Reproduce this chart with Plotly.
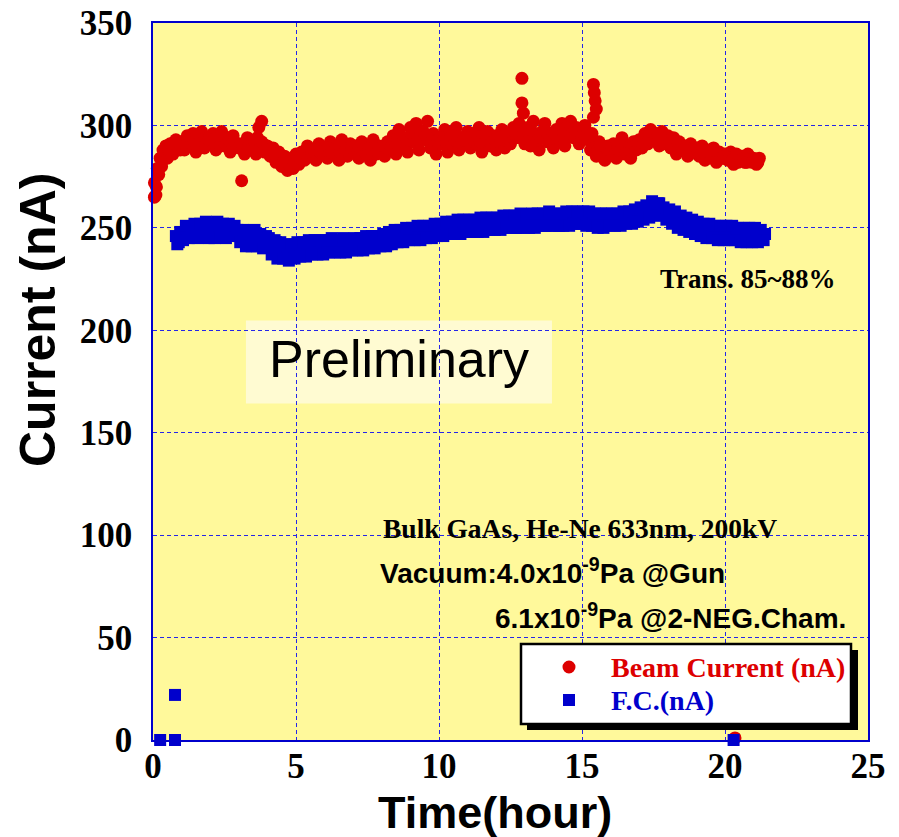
import plotly.graph_objects as go

# ---------------- data ----------------
# Beam current: main readings, an in-between pass, and isolated points
beam_t = [
    0.1, 0.2, 0.3, 0.4, 0.5, 0.6, 0.7, 0.8, 0.9, 1.0,
    1.1, 1.2, 1.3, 1.4, 1.5, 1.6, 1.7, 1.8, 1.9, 2.0,
    2.1, 2.2, 2.3, 2.4, 2.5, 2.6, 2.7, 2.8, 2.9, 3.0,
    3.1, 3.2, 3.3, 3.4, 3.5, 3.6, 3.7, 3.8, 3.9, 4.0,
    4.1, 4.2, 4.3, 4.4, 4.5, 4.6, 4.7, 4.8, 4.9, 5.0,
    5.1, 5.2, 5.3, 5.4, 5.5, 5.6, 5.7, 5.8, 5.9, 6.0,
    6.1, 6.2, 6.3, 6.4, 6.5, 6.6, 6.7, 6.8, 6.9, 7.0,
    7.1, 7.2, 7.3, 7.4, 7.5, 7.6, 7.7, 7.8, 7.9, 8.0,
    8.1, 8.2, 8.3, 8.4, 8.5, 8.6, 8.7, 8.8, 8.9, 9.0,
    9.1, 9.2, 9.3, 9.4, 9.5, 9.6, 9.7, 9.8, 9.9, 10.0,
    10.1, 10.2, 10.3, 10.4, 10.5, 10.6, 10.7, 10.8, 10.9, 11.0,
    11.1, 11.2, 11.3, 11.4, 11.5, 11.6, 11.7, 11.8, 11.9, 12.0,
    12.1, 12.2, 12.3, 12.4, 12.5, 12.6, 12.7, 12.8, 12.9, 13.0,
    13.1, 13.2, 13.3, 13.4, 13.5, 13.6, 13.7, 13.8, 13.9, 14.0,
    14.1, 14.2, 14.3, 14.4, 14.5, 14.6, 14.7, 14.8, 14.9, 15.0,
    15.1, 15.2, 15.3, 15.4, 15.5, 15.6, 15.7, 15.8, 15.9, 16.0,
    16.1, 16.2, 16.3, 16.4, 16.5, 16.6, 16.7, 16.8, 16.9, 17.0,
    17.1, 17.2, 17.3, 17.4, 17.5, 17.6, 17.7, 17.8, 17.9, 18.0,
    18.1, 18.2, 18.3, 18.4, 18.5, 18.6, 18.7, 18.8, 18.9, 19.0,
    19.1, 19.2, 19.3, 19.4, 19.5, 19.6, 19.7, 19.8, 19.9, 20.0,
    20.1, 20.2, 20.3, 20.4, 20.5, 20.6, 20.7, 20.8, 20.9, 21.0,
    21.1, 21.2,
    0.05, 0.15, 0.25, 0.35, 0.45, 0.55, 0.65, 0.75, 0.85, 0.95,
    1.05, 1.15, 1.25, 1.35, 1.45, 1.55, 1.65, 1.75, 1.85, 1.95,
    2.05, 2.15, 2.25, 2.35, 2.45, 2.55, 2.65, 2.75, 2.85, 2.95,
    3.05, 3.15, 3.25, 3.35, 3.45, 3.55, 3.65, 3.75, 3.85, 3.95,
    4.05, 4.15, 4.25, 4.35, 4.45, 4.55, 4.65, 4.75, 4.85, 4.95,
    5.05, 5.15, 5.25, 5.35, 5.45, 5.55, 5.65, 5.75, 5.85, 5.95,
    6.05, 6.15, 6.25, 6.35, 6.45, 6.55, 6.65, 6.75, 6.85, 6.95,
    7.05, 7.15, 7.25, 7.35, 7.45, 7.55, 7.65, 7.75, 7.85, 7.95,
    8.05, 8.15, 8.25, 8.35, 8.45, 8.55, 8.65, 8.75, 8.85, 8.95,
    9.05, 9.15, 9.25, 9.35, 9.45, 9.55, 9.65, 9.75, 9.85, 9.95,
    10.05, 10.15, 10.25, 10.35, 10.45, 10.55, 10.65, 10.75, 10.85, 10.95,
    11.05, 11.15, 11.25, 11.35, 11.45, 11.55, 11.65, 11.75, 11.85, 11.95,
    12.05, 12.15, 12.25, 12.35, 12.45, 12.55, 12.65, 12.75, 12.85, 12.95,
    13.05, 13.15, 13.25, 13.35, 13.45, 13.55, 13.65, 13.75, 13.85, 13.95,
    14.05, 14.15, 14.25, 14.35, 14.45, 14.55, 14.65, 14.75, 14.85, 14.95,
    15.05, 15.15, 15.25, 15.35, 15.45, 15.55, 15.65, 15.75, 15.85, 15.95,
    16.05, 16.15, 16.25, 16.35, 16.45, 16.55, 16.65, 16.75, 16.85, 16.95,
    17.05, 17.15, 17.25, 17.35, 17.45, 17.55, 17.65, 17.75, 17.85, 17.95,
    18.05, 18.15, 18.25, 18.35, 18.45, 18.55, 18.65, 18.75, 18.85, 18.95,
    19.05, 19.15, 19.25, 19.35, 19.45, 19.55, 19.65, 19.75, 19.85, 19.95,
    20.05, 20.15, 20.25, 20.35, 20.45, 20.55, 20.65, 20.75, 20.85, 20.95,
    21.05, 21.15,
    0.05, 0.12, 3.1, 3.8, 12.9, 12.9, 12.95, 15.4, 15.43, 15.46, 15.5, 20.35,
]
beam_nA = [
    266, 276, 280, 287, 284, 291, 286, 293, 289, 292,
    288, 295, 290, 296, 287, 293, 297, 289, 294, 291,
    296, 288, 293, 297, 290, 294, 287, 295, 291, 289,
    291, 286, 294, 288, 291, 286, 299, 292, 287, 290,
    285, 289, 282, 287, 280, 285, 278, 283, 279, 286,
    281, 287, 283, 290, 285, 288, 283, 291, 286, 289,
    284, 292, 287, 290, 283, 293, 288, 285, 291, 287,
    290, 284, 292, 287, 289, 283, 293, 286, 290, 288,
    285, 292, 288, 295, 286, 298, 290, 294, 287, 299,
    292, 301, 288, 297, 293, 302, 289, 296, 286, 294,
    291, 298, 287, 295, 290, 299, 288, 294, 292, 297,
    289, 296, 291, 299, 287, 293, 297, 290, 295, 288,
    293, 298, 289, 296, 291, 299, 294, 301, 297, 291,
    299, 290, 302, 294, 288, 297, 301, 292, 296, 289,
    298, 293, 301, 290, 296, 302, 294, 299, 291, 297,
    300, 293, 288, 304, 285, 292, 287, 283, 290, 286,
    291, 284, 289, 294, 286, 290, 284, 292, 288, 293,
    289, 296, 291, 298, 293, 296, 290, 297, 292, 295,
    289, 294, 286, 292, 288, 290, 285, 291, 287, 289,
    285, 290, 283, 288, 286, 289, 282, 287, 284, 286,
    283, 287, 281, 286, 284, 285, 282, 286, 283, 284,
    281, 284,
    272, 279, 284, 288, 290, 288, 291, 289, 290, 288,
    291, 290, 293, 291, 292, 290, 293, 292, 291, 293,
    292, 291, 293, 290, 292, 291, 293, 291, 292, 290,
    290, 289, 291, 290, 289, 292, 294, 289, 291, 288,
    288, 285, 286, 283, 284, 282, 283, 281, 284, 282,
    285, 284, 287, 286, 288, 286, 287, 288, 287, 286,
    288, 289, 287, 288, 289, 287, 289, 288, 287, 289,
    288, 287, 289, 288, 286, 289, 288, 290, 287, 289,
    290, 289, 291, 290, 292, 293, 291, 292, 294, 293,
    296, 294, 293, 295, 297, 295, 293, 292, 291, 292,
    294, 293, 292, 293, 295, 293, 292, 294, 293, 294,
    293, 294, 295, 293, 292, 295, 293, 294, 292, 293,
    295, 294, 293, 294, 295, 296, 297, 295, 294, 296,
    295, 296, 297, 295, 293, 294, 296, 297, 295, 294,
    296, 297, 295, 294, 299, 297, 296, 295, 297, 296,
    296, 295, 294, 296, 289, 288, 290, 287, 289, 288,
    288, 289, 290, 288, 289, 287, 288, 289, 290, 291,
    292, 293, 294, 293, 295, 293, 292, 294, 291, 292,
    291, 290, 289, 291, 289, 288, 289, 287, 288, 287,
    287, 286, 287, 285, 286, 284, 285, 286, 284, 285,
    285, 284, 283, 284, 282, 283, 284, 282, 283, 282,
    283, 282,
    265, 270, 273, 302, 323, 311, 306, 320, 316, 312, 308, 1,
]

# Faraday cup current: main readings, an in-between pass, and isolated points
fc_t = [
    0.8, 0.9, 1.0,
    1.1, 1.2, 1.3, 1.4, 1.5, 1.6, 1.7, 1.8, 1.9, 2.0,
    2.1, 2.2, 2.3, 2.4, 2.5, 2.6, 2.7, 2.8, 2.9, 3.0,
    3.1, 3.2, 3.3, 3.4, 3.5, 3.6, 3.7, 3.8, 3.9, 4.0,
    4.1, 4.2, 4.3, 4.4, 4.5, 4.6, 4.7, 4.8, 4.9, 5.0,
    5.1, 5.2, 5.3, 5.4, 5.5, 5.6, 5.7, 5.8, 5.9, 6.0,
    6.1, 6.2, 6.3, 6.4, 6.5, 6.6, 6.7, 6.8, 6.9, 7.0,
    7.1, 7.2, 7.3, 7.4, 7.5, 7.6, 7.7, 7.8, 7.9, 8.0,
    8.1, 8.2, 8.3, 8.4, 8.5, 8.6, 8.7, 8.8, 8.9, 9.0,
    9.1, 9.2, 9.3, 9.4, 9.5, 9.6, 9.7, 9.8, 9.9, 10.0,
    10.1, 10.2, 10.3, 10.4, 10.5, 10.6, 10.7, 10.8, 10.9, 11.0,
    11.1, 11.2, 11.3, 11.4, 11.5, 11.6, 11.7, 11.8, 11.9, 12.0,
    12.1, 12.2, 12.3, 12.4, 12.5, 12.6, 12.7, 12.8, 12.9, 13.0,
    13.1, 13.2, 13.3, 13.4, 13.5, 13.6, 13.7, 13.8, 13.9, 14.0,
    14.1, 14.2, 14.3, 14.4, 14.5, 14.6, 14.7, 14.8, 14.9, 15.0,
    15.1, 15.2, 15.3, 15.4, 15.5, 15.6, 15.7, 15.8, 15.9, 16.0,
    16.1, 16.2, 16.3, 16.4, 16.5, 16.6, 16.7, 16.8, 16.9, 17.0,
    17.1, 17.2, 17.3, 17.4, 17.5, 17.6, 17.7, 17.8, 17.9, 18.0,
    18.1, 18.2, 18.3, 18.4, 18.5, 18.6, 18.7, 18.8, 18.9, 19.0,
    19.1, 19.2, 19.3, 19.4, 19.5, 19.6, 19.7, 19.8, 19.9, 20.0,
    20.1, 20.2, 20.3, 20.4, 20.5, 20.6, 20.7, 20.8, 20.9, 21.0,
    21.1, 21.2, 21.3, 21.4,
    0.85, 0.95,
    1.05, 1.15, 1.25, 1.35, 1.45, 1.55, 1.65, 1.75, 1.85, 1.95,
    2.05, 2.15, 2.25, 2.35, 2.45, 2.55, 2.65, 2.75, 2.85, 2.95,
    3.05, 3.15, 3.25, 3.35, 3.45, 3.55, 3.65, 3.75, 3.85, 3.95,
    4.05, 4.15, 4.25, 4.35, 4.45, 4.55, 4.65, 4.75, 4.85, 4.95,
    5.05, 5.15, 5.25, 5.35, 5.45, 5.55, 5.65, 5.75, 5.85, 5.95,
    6.05, 6.15, 6.25, 6.35, 6.45, 6.55, 6.65, 6.75, 6.85, 6.95,
    7.05, 7.15, 7.25, 7.35, 7.45, 7.55, 7.65, 7.75, 7.85, 7.95,
    8.05, 8.15, 8.25, 8.35, 8.45, 8.55, 8.65, 8.75, 8.85, 8.95,
    9.05, 9.15, 9.25, 9.35, 9.45, 9.55, 9.65, 9.75, 9.85, 9.95,
    10.05, 10.15, 10.25, 10.35, 10.45, 10.55, 10.65, 10.75, 10.85, 10.95,
    11.05, 11.15, 11.25, 11.35, 11.45, 11.55, 11.65, 11.75, 11.85, 11.95,
    12.05, 12.15, 12.25, 12.35, 12.45, 12.55, 12.65, 12.75, 12.85, 12.95,
    13.05, 13.15, 13.25, 13.35, 13.45, 13.55, 13.65, 13.75, 13.85, 13.95,
    14.05, 14.15, 14.25, 14.35, 14.45, 14.55, 14.65, 14.75, 14.85, 14.95,
    15.05, 15.15, 15.25, 15.35, 15.45, 15.55, 15.65, 15.75, 15.85, 15.95,
    16.05, 16.15, 16.25, 16.35, 16.45, 16.55, 16.65, 16.75, 16.85, 16.95,
    17.05, 17.15, 17.25, 17.35, 17.45, 17.55, 17.65, 17.75, 17.85, 17.95,
    18.05, 18.15, 18.25, 18.35, 18.45, 18.55, 18.65, 18.75, 18.85, 18.95,
    19.05, 19.15, 19.25, 19.35, 19.45, 19.55, 19.65, 19.75, 19.85, 19.95,
    20.05, 20.15, 20.25, 20.35, 20.45, 20.55, 20.65, 20.75, 20.85, 20.95,
    21.05, 21.15, 21.25, 21.35,
    0.25, 0.77, 0.77, 20.3,
]
fc_nA = [
    246, 243, 247,
    245, 248, 246, 250, 247, 251, 248, 250, 246, 249,
    250, 247, 251, 248, 249, 251, 247, 250, 248, 246,
    247, 244, 248, 243, 246, 244, 247, 242, 245, 243,
    242, 240, 243, 238, 241, 237, 240, 236, 239, 238,
    240, 237, 241, 238, 240, 239, 242, 238, 241, 240,
    241, 239, 242, 240, 241, 239, 242, 240, 241, 242,
    242, 240, 243, 241, 242, 244, 241, 243, 242, 244,
    244, 242, 246, 243, 247, 245, 244, 247, 245, 248,
    246, 248, 245, 249, 247, 246, 248, 247, 249, 248,
    248, 250, 247, 249, 251, 248, 250, 249, 252, 250,
    249, 251, 250, 252, 249, 251, 253, 250, 252, 251,
    250, 252, 254, 251, 253, 252, 250, 253, 252, 254,
    252, 254, 251, 253, 252, 254, 251, 253, 255, 252,
    253, 251, 254, 252, 255, 253, 254, 252, 256, 254,
    255, 253, 256, 252, 254, 253, 255, 252, 254, 253,
    252, 254, 253, 255, 253, 256, 254, 255, 257, 255,
    256, 258, 256, 259, 261, 258, 262, 259, 257, 258,
    256, 254, 255, 252, 253, 251, 252, 250, 251, 249,
    250, 248, 249, 247, 250, 248, 249, 246, 248, 247,
    248, 246, 249, 247, 248, 246, 247, 245, 248, 246,
    247, 245, 246, 247,
    242, 248,
    244, 251, 245, 247, 252, 245, 252, 246, 253, 245,
    252, 245, 253, 246, 252, 245, 252, 246, 251, 249,
    243, 249, 241, 248, 241, 249, 241, 247, 240, 246,
    245, 237, 244, 235, 243, 235, 242, 234, 242, 235,
    243, 236, 243, 236, 244, 237, 244, 237, 244, 237,
    244, 238, 245, 238, 244, 238, 245, 238, 244, 239,
    245, 239, 245, 239, 246, 240, 246, 240, 246, 241,
    247, 241, 248, 242, 249, 243, 249, 243, 250, 244,
    250, 244, 251, 244, 251, 245, 251, 245, 252, 246,
    252, 246, 253, 247, 253, 247, 254, 247, 254, 248,
    254, 248, 254, 248, 255, 248, 255, 249, 255, 249,
    255, 249, 256, 250, 256, 250, 256, 250, 257, 250,
    256, 250, 257, 250, 257, 251, 257, 251, 258, 251,
    257, 251, 257, 251, 258, 251, 258, 252, 258, 252,
    258, 251, 258, 251, 257, 250, 257, 250, 257, 251,
    257, 251, 257, 251, 258, 252, 258, 252, 259, 253,
    260, 254, 261, 255, 263, 256, 262, 256, 260, 254,
    259, 252, 258, 250, 256, 249, 255, 248, 254, 247,
    253, 246, 252, 245, 252, 245, 251, 244, 251, 244,
    251, 244, 251, 244, 250, 243, 250, 243, 250, 243,
    250, 243, 249, 244,
    0, 0, 22, 0,
]

x_ticks = [0, 5, 10, 15, 20, 25]
y_ticks = [0, 50, 100, 150, 200, 250, 300, 350]

# ---------------- styling ----------------
W, H = 899, 837
L, R, T, B = 153, 868, 23, 740
SERIF = "Liberation Serif, Times New Roman, serif"
SANS = "Liberation Sans, Arial, sans-serif"
RED = "#DD0000"
BLUE = "#0000CC"


def px(x):
    return (x - L) / (R - L)


def py(y):
    return (B - y) / (B - T)


fig = go.Figure()
fig.add_trace(go.Scatter(
    x=beam_t, y=beam_nA, mode="markers", cliponaxis=False, name="Beam Current (nA)",
    marker=dict(symbol="circle", size=13, color=RED, line=dict(width=0)),
))
fig.add_trace(go.Scatter(
    x=fc_t, y=fc_nA, mode="markers", cliponaxis=False, name="F.C.(nA)",
    marker=dict(symbol="square", size=12, color=BLUE, line=dict(width=0)),
))

axis_common = dict(
    showline=True, linecolor=BLUE, linewidth=1.5, mirror=True,
    showgrid=True, gridcolor="#2525E8", gridwidth=1, griddash="4px,3px",
    zeroline=False, ticks="", automargin=False,
    tickfont=dict(family=SERIF, size=35, color="black", weight="bold"),
)

fig.update_layout(
    width=W, height=H,
    margin=dict(l=L, r=W - R, t=T, b=H - B, pad=0),
    paper_bgcolor="white", plot_bgcolor="#FFF99B",
    showlegend=False,
    xaxis=dict(range=[0, 25], tickvals=x_ticks, ticklabelstandoff=-6, **axis_common),
    yaxis=dict(range=[0, 350], tickvals=y_ticks, ticklabelstandoff=12, **axis_common),
)

# legend box with drop shadow, and its symbols
fig.add_shape(type="rect", xref="paper", yref="paper", layer="above",
              x0=px(527), x1=px(858), y0=py(730), y1=py(650),
              fillcolor="black", line=dict(width=0))
fig.add_shape(type="rect", xref="paper", yref="paper", layer="above",
              x0=px(521), x1=px(851), y0=py(724), y1=py(644),
              fillcolor="white", line=dict(color="black", width=2.5))
fig.add_shape(type="circle", xref="paper", yref="paper", layer="above",
              x0=px(562.5), x1=px(575.5), y0=py(673.5), y1=py(660.5),
              fillcolor=RED, line=dict(width=0))
fig.add_shape(type="rect", xref="paper", yref="paper", layer="above",
              x0=px(563), x1=px(575), y0=py(706), y1=py(694),
              fillcolor=BLUE, line=dict(width=0))

# "Preliminary" box
fig.add_shape(type="rect", xref="x", yref="y", layer="below",
              x0=3.25, x1=13.95, y0=164.3, y1=204.8,
              fillcolor="#FFFBD2", line=dict(width=0))

ann = []
ann.append(dict(text="Beam Current (nA)", x=px(609), y=py(667), xanchor="left", yanchor="middle",
                font=dict(family=SERIF, size=28, color=RED, weight="bold")))
ann.append(dict(text="F.C.(nA)", x=px(609), y=py(700), xanchor="left", yanchor="middle",
                font=dict(family=SERIF, size=28, color=BLUE, weight="bold")))
ann.append(dict(text="Preliminary", x=px(399), y=py(359), xanchor="center", yanchor="middle",
                font=dict(family=SANS, size=52, color="black")))
ann.append(dict(text="Trans. 85~88%", x=px(658), y=py(279), xanchor="left", yanchor="middle",
                font=dict(family=SERIF, size=27, color="black", weight="bold")))
ann.append(dict(text="Bulk GaAs, He-Ne 633nm, 200kV", x=px(381), y=py(528), xanchor="left", yanchor="middle",
                font=dict(family=SERIF, size=27.5, color="black", weight="bold")))
ann.append(dict(text="Vacuum:4.0x10<sup>-9</sup>Pa @Gun", x=px(378), y=py(571), xanchor="left", yanchor="middle",
                font=dict(family=SANS, size=28, color="black", weight="bold")))
ann.append(dict(text="6.1x10<sup>-9</sup>Pa @2-NEG.Cham.", x=px(848), y=py(616), xanchor="right", yanchor="middle",
                font=dict(family=SANS, size=28, color="black", weight="bold")))
# axis titles
ann.append(dict(text="Current (nA)", x=px(38), y=py(320), xanchor="center", yanchor="middle",
                textangle=-90, font=dict(family=SANS, size=50, color="black", weight="bold")))
ann.append(dict(text="Time(hour)", x=px(495), y=py(812), xanchor="center", yanchor="middle",
                font=dict(family=SANS, size=45, color="black", weight="bold")))
for a in ann:
    a.update(xref="paper", yref="paper", showarrow=False)
fig.update_layout(annotations=ann)

fig.write_html("out.html", config={"displayModeBar": False},
               post_script="document.body.style.margin='0px';")
